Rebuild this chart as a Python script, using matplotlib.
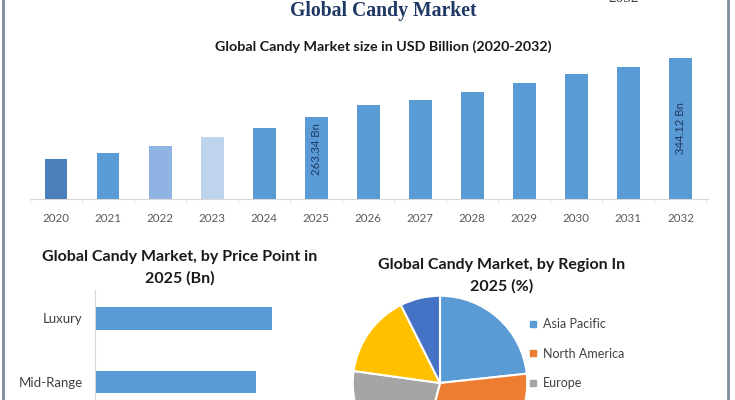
import matplotlib.pyplot as plt
from matplotlib.lines import Line2D

# top chart: market size (Bn)
years = ['2020', '2021', '2022', '2023', '2024', '2025', '2026',
         '2027', '2028', '2029', '2030', '2031', '2032']
market = [205.8, 214.0, 223.6, 235.9, 248.2, 263.34, 279.7,
          286.5, 297.5, 309.8, 322.1, 331.7, 344.12]
bar_colors = ['#4a7fbb', '#5b9bd5', '#8fb4e3', '#bdd3ee'] + ['#5b9bd5'] * 9
labelled = {5: '263.34 Bn', 12: '344.12 Bn'}

# bottom left: price point
price_points = ['Luxury', 'Mid-Range']
price_values = [105.3, 95.8]

# bottom right: region share
regions = ['Asia Pacific', 'North America', 'Europe',
           'Middle East and Africa', 'South America']
region_share = [23.3, 30.8, 23.1, 15.4, 7.4]
region_colors = ['#5b9bd5', '#ed7d31', '#a5a5a5', '#ffc000', '#4472c4']

plt.rcParams['font.family'] = ['Lato', 'DejaVu Sans']

W, H = 735, 400
fig = plt.figure(figsize=(W / 100, H / 100), dpi=100)


def rect(x0, y0, x1, y1):
    # pixel box (top-left origin) -> figure fraction
    return [x0 / W, 1 - y1 / H, (x1 - x0) / W, (y1 - y0) / H]


# frame lines
fig.add_artist(Line2D([3 / W, 3 / W], [0, 1], color='#7d8c9c', lw=2))
fig.add_artist(Line2D([728 / W, 728 / W], [0, 1], color='#7d8c9c', lw=2))

fig.text(383 / W, 1 - 11 / H, 'Global Candy Market', ha='center', va='center',
         family='Liberation Serif', fontsize=14.2, fontweight='bold', color='#1f3864')
fig.text(624 / W, 1 + 2 / H, '2032', ha='center', va='center',
         family='Liberation Serif', fontsize=11, color='#404040')
fig.text(383 / W, 1 - 47 / H, 'Global Candy Market size in USD Billion (2020-2032)',
         ha='center', va='center', fontsize=10.3, fontweight='bold', color='#1a1a1a')

# ---- top bar chart
ymin, ymax = 150.9, 360
px = 1.369  # value units per pixel
ax = fig.add_axes(rect(30, 199 - (ymax - ymin) / px, 708, 199))
x = list(range(len(years)))
ax.bar(x, market, width=0.44, color=bar_colors)
ax.set_ylim(ymin, ymax)
ax.set_xlim(-0.48, 12.53)
label_pos = {5: 0.61, 12: 0.50}
for i, txt in labelled.items():
    ax.text(i, ymin + (market[i] - ymin) * label_pos[i], txt, rotation=90,
            ha='center', va='center', fontsize=8.2, color='#1f3864')
ax.set_xticks(x)
ax.set_xticklabels(years, fontsize=8.3, color='#595959')
ax.set_xticks([i + 0.5 for i in range(-1, len(years))], minor=True)
ax.tick_params(axis='x', which='major', length=0, pad=10)
ax.tick_params(axis='x', which='minor', length=3, color='#e0e0e0')
ax.set_yticks([])
for s in ['top', 'right', 'left']:
    ax.spines[s].set_visible(False)
ax.spines['bottom'].set_color('#d9d9d9')

# ---- price point bars
fig.text(180 / W, 1 - 257 / H, 'Global Candy Market, by Price Point in',
         ha='center', va='center', fontsize=11.5, fontweight='bold', color='#1a1a1a')
fig.text(180 / W, 1 - 278 / H, '2025 (Bn)',
         ha='center', va='center', fontsize=11.5, fontweight='bold', color='#1a1a1a')
ax2 = fig.add_axes(rect(95, 290, 95 + 140 * 177 / 105.3, 400))
ax2.barh(range(len(price_points)), price_values, height=0.35, color='#5b9bd5')
ax2.set_ylim(1.29, -0.45)
ax2.set_xlim(0, 140)
ax2.set_yticks(range(len(price_points)))
ax2.set_yticklabels(price_points, fontsize=9.5, color='#404040')
ax2.tick_params(axis='y', length=0, pad=9)
ax2.set_xticks([])
for s in ['top', 'right', 'bottom']:
    ax2.spines[s].set_visible(False)
ax2.spines['left'].set_color('#d9d9d9')

# ---- region pie
fig.text(502 / W, 1 - 265 / H, 'Global Candy Market, by Region In',
         ha='center', va='center', fontsize=11.5, fontweight='bold', color='#1a1a1a')
fig.text(502 / W, 1 - 286 / H, '2025 (%)',
         ha='center', va='center', fontsize=11.5, fontweight='bold', color='#1a1a1a')
ax3 = fig.add_axes(rect(351, 294, 529, 472))
ax3.pie(region_share, colors=region_colors, startangle=90, counterclock=False,
        radius=1, wedgeprops=dict(edgecolor='white', linewidth=1.5))
ax3.set_xlim(-1.02, 1.02)
ax3.set_ylim(-1.02, 1.02)
ax3.set_aspect('equal')
handles = [Line2D([], [], marker='s', ls='', markersize=5, color=c) for c in region_colors]
fig.legend(handles, regions, loc='upper left', bbox_to_anchor=(529 / W, 1 - 318 / H),
           frameon=False, fontsize=9, labelcolor='#404040', handlelength=0.6,
           handletextpad=0.5, labelspacing=1.4, borderpad=0, borderaxespad=0)

fig.savefig('out.png', dpi=100)
